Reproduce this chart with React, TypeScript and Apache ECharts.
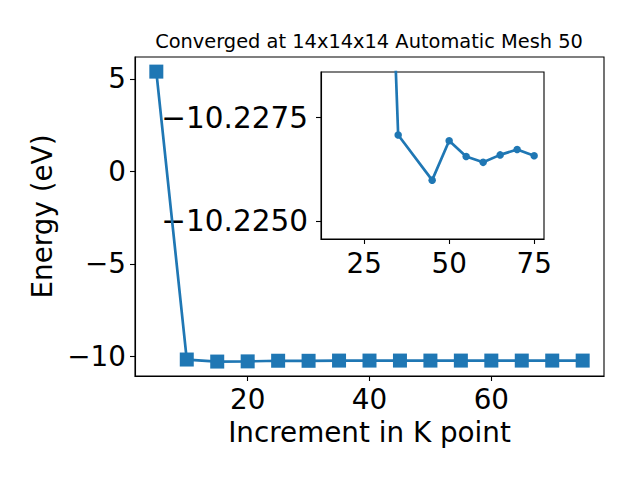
import React, { useEffect, useRef } from "react";
import * as echarts from "echarts";

const kPoints = [5, 10, 15, 20, 25, 30, 35, 40, 45, 50, 55, 60, 65, 70, 75];
const energies = [
  5.39, -10.17, -10.28, -10.27, -10.235, -10.2383, -10.22708, -10.2266,
  -10.22599, -10.22694, -10.22656, -10.22642, -10.2266, -10.22673, -10.22658,
];
const insetKPoints = [25, 30, 35, 45, 50, 55, 60, 65, 70, 75];
const insetEnergies = [
  -10.235, -10.2383, -10.22708, -10.22599, -10.22694, -10.22656, -10.22642,
  -10.2266, -10.22673, -10.22658,
];
const mainXTicks = [20, 40, 60];
const mainYTicks = [-10, -5, 0, 5];
const insetXTicks = [25, 50, 75];
const insetYTicks = [-10.2275, -10.225];

const titleText = "Converged at 14x14x14 Automatic Mesh 50";
const xName = "Increment in K point";
const yName = "Energy (eV)";

const FONT = "DejaVu Sans";
const BLUE = "#1f77b4";

const fmt = (v: number, d: number) =>
  (v < 0 ? "\u2212" : "") + Math.abs(v).toFixed(d);

export default function App() {
  const ref = useRef<HTMLDivElement>(null);
  useEffect(() => {
    if (!ref.current) return;
    const chart = echarts.init(ref.current, undefined, { renderer: "svg" });
    const tickFont = { fontFamily: FONT, fontSize: 27.8, color: "#000" };
    const axisCommon = {
      axisLine: { show: true, onZero: false, lineStyle: { color: "#000", width: 1.1 } },
      splitLine: { show: false },
    };
    chart.setOption({
      animation: false,
      backgroundColor: "#fff",
      title: {
        text: titleText,
        left: 364,
        textAlign: "center",
        top: 27,
        textStyle: { fontFamily: FONT, fontSize: 19.4, fontWeight: "normal", color: "#000" },
      },
      grid: [
        { left: 135, top: 57, width: 469, height: 319, show: true, borderColor: "#000", borderWidth: 1.1, backgroundColor: "#fff" },
        { left: 321, top: 72, width: 223, height: 167, show: true, borderColor: "#000", borderWidth: 1.1, backgroundColor: "#fff" },
      ],
      xAxis: [
        {
          ...axisCommon,
          gridIndex: 0,
          type: "value",
          min: 1.5,
          max: 78.5,
          name: xName,
          nameLocation: "middle",
          nameGap: 42,
          nameTextStyle: { fontFamily: FONT, fontSize: 27.8, color: "#000" },
          axisTick: { show: true, customValues: mainXTicks, length: 5, inside: false, lineStyle: { color: "#000", width: 1.1 } },
          axisLabel: { ...tickFont, customValues: mainXTicks, margin: 9, formatter: (v: number) => fmt(v, 0) },
        },
        {
          ...axisCommon,
          gridIndex: 1,
          type: "value",
          min: 12.3,
          max: 77.9,
          axisTick: { show: true, customValues: insetXTicks, length: 5, inside: false, lineStyle: { color: "#000", width: 1.1 } },
          axisLabel: { ...tickFont, customValues: insetXTicks, margin: 10, formatter: (v: number) => fmt(v, 0) },
        },
      ],
      yAxis: [
        {
          ...axisCommon,
          gridIndex: 0,
          type: "value",
          min: -11.06,
          max: 6.18,
          name: yName,
          nameLocation: "middle",
          nameRotate: 90,
          nameGap: 78,
          nameTextStyle: { fontFamily: FONT, fontSize: 27.8, color: "#000" },
          axisTick: { show: true, customValues: mainYTicks, length: 5, inside: false, lineStyle: { color: "#000", width: 1.1 } },
          axisLabel: { ...tickFont, customValues: mainYTicks, margin: 9, formatter: (v: number) => fmt(v, 0) },
        },
        {
          ...axisCommon,
          gridIndex: 1,
          type: "value",
          inverse: true,
          min: -10.2286,
          max: -10.22457,
          axisTick: { show: true, customValues: insetYTicks, length: 5, inside: false, lineStyle: { color: "#000", width: 1.1 } },
          axisLabel: { ...tickFont, fontSize: 29.5, customValues: insetYTicks, margin: 13, formatter: (v: number) => fmt(v, 4) },
        },
      ],
      series: [
        {
          type: "line",
          xAxisIndex: 0,
          yAxisIndex: 0,
          data: kPoints.map((k, i) => [k, energies[i]]),
          symbol: "rect",
          symbolSize: 14,
          showAllSymbol: true,
          lineStyle: { color: BLUE, width: 2.7 },
          itemStyle: { color: BLUE },
          z: 3,
        },
        {
          type: "line",
          xAxisIndex: 1,
          yAxisIndex: 1,
          data: insetKPoints.map((k, i) => [k, insetEnergies[i]]),
          symbol: "circle",
          symbolSize: 7.5,
          showAllSymbol: true,
          clip: true,
          lineStyle: { color: BLUE, width: 2.7 },
          itemStyle: { color: BLUE },
          z: 5,
        },
      ],
    });
    return () => chart.dispose();
  }, []);
  return (
    <div
      ref={ref}
      style={{ position: "fixed", left: 0, top: 0, width: 640, height: 480 }}
    />
  );
}
